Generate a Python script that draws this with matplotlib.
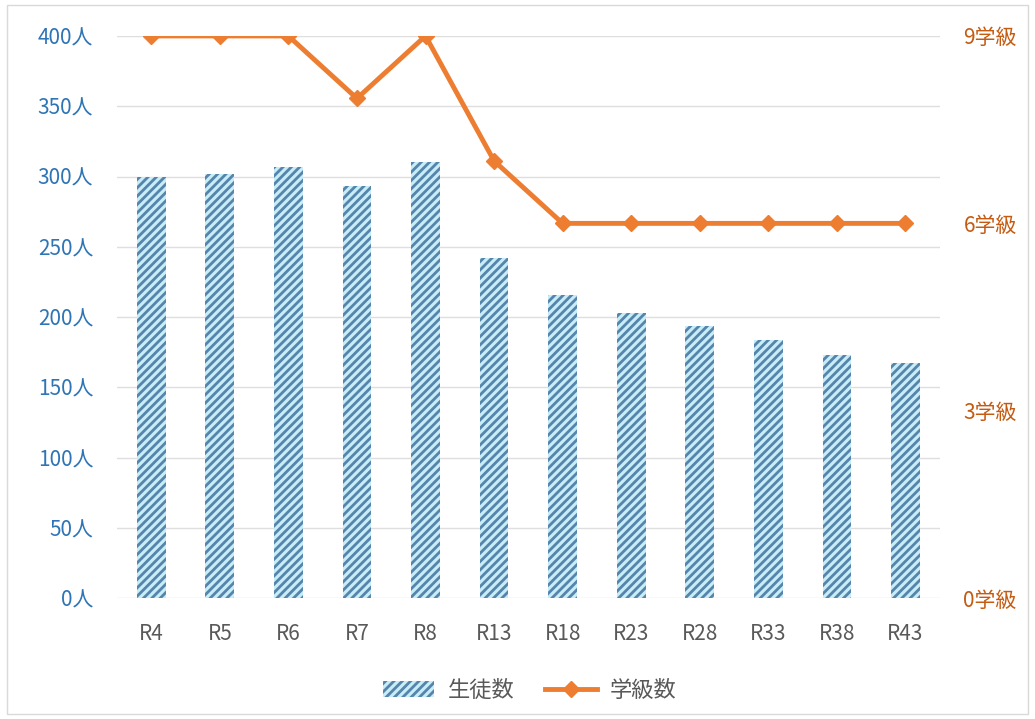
import matplotlib
matplotlib.use("Agg")
import matplotlib.pyplot as plt
from matplotlib.patches import Rectangle

plt.rcParams['font.family'] = ['Noto Sans CJK JP', 'DejaVu Sans']
plt.rcParams['hatch.color'] = '#5585ab'
plt.rcParams['hatch.linewidth'] = 2.0

categories = ['R4', 'R5', 'R6', 'R7', 'R8', 'R13', 'R18', 'R23', 'R28', 'R33', 'R38', 'R43']
students = [300, 302, 307, 293, 310, 242, 216, 203, 194, 184, 173, 167]
classes = [9, 9, 9, 8, 9, 7, 6, 6, 6, 6, 6, 6]
left_ticks = [0, 50, 100, 150, 200, 250, 300, 350, 400]
right_ticks = [0, 3, 6, 9]

fig = plt.figure(figsize=(10.35, 7.19), dpi=100)
fig.patches.append(Rectangle((0.007, 0.007), 0.986, 0.986, transform=fig.transFigure,
                             fill=False, edgecolor='#d9d9d9', linewidth=1))
ax = fig.add_axes([0.113, 0.168, 0.795, 0.782])
x = list(range(len(categories)))
bars = ax.bar(x, students, width=0.42, color='#c8ecf8', hatch='////', linewidth=0,
              label='生徒数', zorder=2)
ax.set_xlim(-0.5, len(categories) - 0.5)
ax.set_ylim(0, 400)
ax.set_yticks(left_ticks)
ax.set_yticklabels([f'{v}人' for v in left_ticks])
ax.set_xticks(x)
ax.set_xticklabels(categories)
ax.grid(axis='y', color='#dedede', linewidth=1.0, zorder=0)
ax.set_axisbelow(True)
for s in ax.spines.values():
    s.set_visible(False)
ax.tick_params(axis='y', colors='#2e75b6', labelsize=15, length=0, pad=17)
ax.tick_params(axis='x', colors='#595959', labelsize=15, length=0, pad=18)

ax2 = ax.twinx()
line, = ax2.plot(x, classes, color='#ed7d31', linewidth=3.5, marker='D', markersize=8,
                 label='学級数', zorder=3)
ax2.set_ylim(0, 9)
ax2.set_yticks(right_ticks)
ax2.set_yticklabels([f'{v}学級' for v in right_ticks])
for s in ax2.spines.values():
    s.set_visible(False)
ax2.tick_params(axis='y', colors='#c55a11', labelsize=15, length=0, pad=17)

fig.legend([bars, line], ['生徒数', '学級数'], loc='center', bbox_to_anchor=(0.512, 0.04),
           ncol=2, frameon=False, fontsize=16, handlelength=2.3, handletextpad=0.6,
           columnspacing=1.4, labelcolor='#595959')

fig.savefig('out.png', dpi=100)
